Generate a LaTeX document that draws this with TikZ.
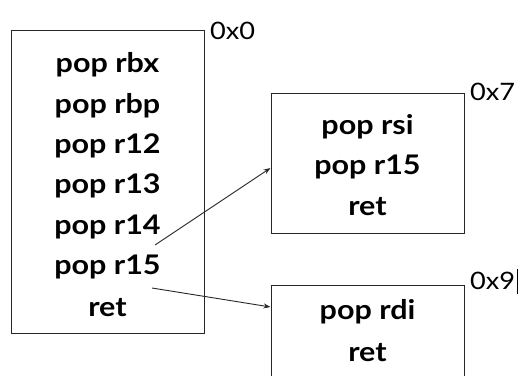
\documentclass[tikz,border=0pt]{standalone}
\usepackage{fontspec}
\setmainfont{Lato}
\newfontfamily\gadgetfont{Lato}[FakeStretch=1.13, UprightFont=*, BoldFont=* Bold]
\usetikzlibrary{arrows.meta,positioning,calc}

\begin{document}
\begin{tikzpicture}[x=1pt,y=-1pt,
  frame/.style={draw=black!85, line width=1pt, minimum width=193pt, inner sep=0pt},
  insn/.style={font=\gadgetfont\bfseries\fontsize{27}{30}\selectfont, inner sep=0pt},
  addr/.style={font=\gadgetfont\fontsize{24}{26}\selectfont, anchor=west, inner sep=0pt},
  jump/.style={-{Stealth[length=7pt,width=5pt]}, line width=0.9pt, black!85}]
\clip (0,0) rectangle (529,375);
% Gadget boxes
\node[frame, minimum height=303pt] (g1) at (107.5,181.5) {};
\node[frame, minimum height=140pt] (g2) at (367.5,163) {};
\node[frame, minimum height=130pt] (g3) at (367.5,350) {};
% First gadget
\foreach \t [count=\i] in {pop rbx,pop rbp,pop r12,pop r13,pop r14,pop r15,ret}
  \node[insn] (a\i) at (107.5,{24.5+40.4*\i}) {\t};
% Second gadget
\foreach \t [count=\i] in {pop rsi,pop r15,ret}
  \node[insn] (b\i) at (367.5,{87+40*\i}) {\t};
% Third gadget
\foreach \t [count=\i] in {pop rdi,ret}
  \node[insn] (c\i) at (367.5,{271+41*\i}) {\t};
% Addresses
\node[addr] (x0) at (210,31) {0x0};
\node[addr] (x7) at (470,92) {0x7};
\node[addr] (x9) at (470,281) {0x9};
\draw[line width=1pt] ($(x9.east)+(2,-12)$) -- ($(x9.east)+(2,13)$);
% Jumps
\coordinate (s1) at (155,245);
\coordinate (s2) at (152,288);
\draw[jump] (s1) -- ($(g2.west)+(0,5)$);
\draw[jump] (s2) -- (g3.west |- 0,307);
\end{tikzpicture}
\end{document}
